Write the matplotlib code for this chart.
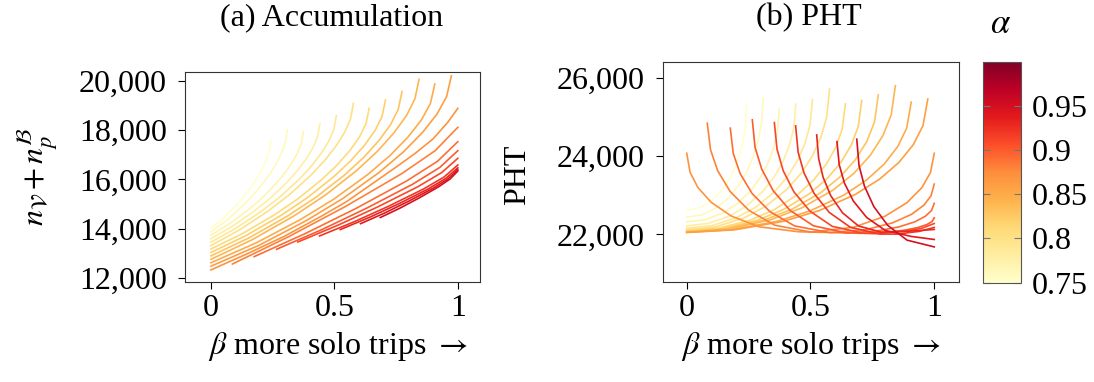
import matplotlib
matplotlib.use('Agg')
import matplotlib.pyplot as plt
from matplotlib import colors, cm
from matplotlib.ticker import FuncFormatter

plt.rcParams['font.family'] = ['Liberation Serif', 'DejaVu Serif']
plt.rcParams['mathtext.fontset'] = 'stix'

# alpha of every curve (colour)
alpha_short = [0.75, 0.76, 0.77, 0.78, 0.79, 0.80, 0.81, 0.82, 0.83, 0.84, 0.85, 0.86]
alpha_long = [0.87, 0.88, 0.89, 0.90, 0.91, 0.92, 0.93, 0.94, 0.95]

# curves that start at beta = 0 and stop before 1 (same beta in both panels)
short_beta = [
    [0, .0484, .0968, .1331, .1694, .1936, .2130, .2275, .2372, .242],
    [0, .0618, .1236, .1700, .2163, .2472, .2719, .2905, .3028, .309],
    [0, .0748, .1496, .2057, .2618, .2992, .3291, .3516, .3665, .374],
    [0, .0882, .1764, .2426, .3087, .3528, .3881, .4145, .4322, .441],
    [0, .1016, .2032, .2794, .3556, .4064, .4470, .4775, .4978, .508],
    [0, .1154, .2308, .3174, .4039, .4616, .5078, .5424, .5655, .577],
    [0, .1282, .2564, .3526, .4487, .5128, .5641, .6025, .6282, .641],
    [0, .1414, .2828, .3889, .4949, .5656, .6222, .6646, .6929, .707],
    [0, .1548, .3096, .4257, .5418, .6192, .6811, .7276, .7585, .774],
    [0, .1686, .3372, .4637, .5901, .6744, .7418, .7924, .8261, .843],
    [0, .1814, .3628, .4989, .6349, .7256, .7982, .8526, .8889, .907],
    [0, .1948, .3896, .5357, .6818, .7792, .8571, .9156, .9545, .974],
]
acc_short = [
    [14010, 14405, 14879, 15292, 15780, 16164, 16534, 16878, 17209, 17600],
    [13870, 14325, 14872, 15348, 15911, 16354, 16780, 17178, 17559, 18010],
    [13730, 14193, 14749, 15233, 15806, 16256, 16690, 17094, 17481, 17940],
    [13590, 14103, 14718, 15254, 15887, 16386, 16866, 17313, 17742, 18250],
    [13450, 14015, 14694, 15285, 15984, 16534, 17063, 17557, 18030, 18590],
    [13310, 13946, 14709, 15373, 16160, 16778, 17373, 17928, 18460, 19090],
    [13170, 13799, 14554, 15212, 15990, 16602, 17191, 17740, 18267, 18890],
    [13030, 13712, 14530, 15243, 16087, 16750, 17389, 17984, 18554, 19230],
    [12890, 13625, 14507, 15275, 16183, 16898, 17586, 18227, 18842, 19570],
    [12750, 13555, 14521, 15363, 16359, 17142, 17896, 18599, 19272, 20070],
    [12610, 13410, 14369, 15205, 16194, 16972, 17721, 18419, 19088, 19880],
    [12470, 13321, 14343, 15233, 16286, 17114, 17911, 18654, 19366, 20210],
]
pht_short = [
    [22620, 22674, 22843, 23060, 23383, 23688, 24022, 24379, 24759, 25290],
    [22440, 22502, 22695, 22943, 23312, 23660, 24041, 24449, 24883, 25490],
    [22320, 22378, 22561, 22795, 23145, 23474, 23835, 24221, 24631, 25205],
    [22220, 22283, 22480, 22733, 23110, 23465, 23854, 24271, 24714, 25333],
    [22160, 22226, 22434, 22701, 23099, 23474, 23884, 24324, 24790, 25444],
    [22120, 22193, 22420, 22713, 23149, 23559, 24009, 24490, 25002, 25718],
    [22095, 22161, 22366, 22630, 23023, 23393, 23799, 24233, 24695, 25341],
    [22080, 22148, 22359, 22631, 23037, 23418, 23837, 24284, 24760, 25426],
    [22070, 22141, 22362, 22647, 23071, 23471, 23909, 24377, 24875, 25572],
    [22060, 22136, 22373, 22677, 23130, 23557, 24025, 24526, 25058, 25803],
    [22055, 22122, 22333, 22604, 23007, 23387, 23803, 24249, 24722, 25385],
    [22050, 22119, 22335, 22612, 23026, 23415, 23841, 24298, 24783, 25462],
]

# curves that run up to beta = 1
acc_long_beta = [
    [0, .15, .3, .45, .55, .65, .75, .83, .9, .96, 1],
    [0.087, 0.315, 0.544, 0.772, 0.909, 1],
    [0.175, 0.381, 0.588, 0.794, 0.918, 1],
    [0.266, 0.450, 0.633, 0.817, 0.927, 1],
    [0.352, 0.514, 0.676, 0.838, 0.935, 1],
    [0.440, 0.580, 0.720, 0.860, 0.944, 1],
    [0.524, 0.643, 0.762, 0.881, 0.952, 1],
    [0.606, 0.705, 0.803, 0.902, 0.961, 1],
    [0.686, 0.765, 0.843, 0.922, 0.969, 1],
]
acc_long = [
    [12320, 12990, 13700, 14520, 15100, 15800, 16500, 17080, 17650, 18330, 18890],
    [12560, 13672, 14894, 16228, 17173, 18118],
    [12858, 13793, 14822, 15944, 16738, 17533],
    [13159, 13961, 14842, 15804, 16486, 17167],
    [13455, 14136, 14884, 15701, 16279, 16858],
    [13700, 14277, 14912, 15604, 16095, 16585],
    [13960, 14462, 15014, 15617, 16043, 16470],
    [14200, 14640, 15124, 15652, 16026, 16400],
    [14450, 14828, 15244, 15698, 16020, 16341],
]
pht_long_beta = [
    [0, 0.0135, 0.045, 0.099, 0.18, 0.2925, 0.45, 0.5, 0.675, 0.8, 0.89, 0.95, 0.985, 1],
    [0.083, 0.096, 0.125, 0.175, 0.251, 0.356, 0.503, 0.58, 0.727, 0.832, 0.908, 0.958, 0.987, 1],
    [0.176, 0.188, 0.216, 0.264, 0.336, 0.436, 0.576, 0.64, 0.766, 0.856, 0.921, 0.964, 0.989, 1],
    [0.265, 0.276, 0.303, 0.349, 0.417, 0.512, 0.645, 0.7, 0.805, 0.88, 0.934, 0.97, 0.991, 1],
    [0.354, 0.365, 0.39, 0.433, 0.498, 0.588, 0.714, 0.76, 0.88, 0.95, 1],
    [0.44, 0.45, 0.474, 0.515, 0.576, 0.661, 0.78, 0.85, 0.94, 1],
    [0.525, 0.533, 0.551, 0.582, 0.629, 0.694, 0.785, 0.9, 1],
    [0.607, 0.616, 0.637, 0.673, 0.727, 0.802, 0.907, 1],
    [0.687, 0.696, 0.718, 0.756, 0.812, 0.890, 1],
]
pht_long = [
    [24077, 23589, 23202, 22821, 22471, 22196, 22070, 22060, 22187, 22463, 22814, 23198, 23587, 24077],
    [24846, 24169, 23631, 23102, 22617, 22236, 22060, 22050, 22128, 22298, 22514, 22749, 22989, 23290],
    [24718, 24070, 23555, 23048, 22584, 22218, 22050, 22040, 22088, 22191, 22322, 22466, 22612, 22795],
    [24931, 24228, 23671, 23121, 22618, 22222, 22040, 22030, 22055, 22109, 22178, 22253, 22330, 22426],
    [24862, 24174, 23627, 23089, 22596, 22208, 22030, 22020, 22080, 22160, 22280],
    [24777, 24105, 23571, 23045, 22563, 22184, 22010, 22010, 22080, 22180],
    [24546, 23942, 23462, 22990, 22557, 22217, 22060, 22085, 22128],
    [24374, 23785, 23317, 22857, 22435, 22103, 21950, 21872],
    [24436, 23767, 23235, 22712, 22233, 21855, 21682],
]

x_ticks = [0, 0.5, 1]
x_ticklabels = ['0', '0.5', '1']
acc_ticks = [12000, 14000, 16000, 18000, 20000]
pht_ticks = [22000, 24000, 26000]
cbar_ticks = [0.75, 0.8, 0.85, 0.9, 0.95]
cbar_ticklabels = ['0.75', '0.8', '0.85', '0.9', '0.95']

FS = 23
cmap = plt.get_cmap('YlOrRd')
norm = colors.Normalize(vmin=0.75, vmax=1.0)

fig = plt.figure(figsize=(10.94, 3.82), dpi=100)
ax1 = fig.add_axes([0.1691, 0.2618, 0.2697, 0.5497])
ax2 = fig.add_axes([0.6060, 0.2618, 0.2706, 0.5759])
cax = fig.add_axes([0.8983, 0.2600, 0.0347, 0.5785])

# lighter curves first, redder curves on top
for b, v, a in zip(short_beta, acc_short, alpha_short):
    ax1.plot(b, v, color=cmap(norm(a)), lw=1.2)
for b, v, a in zip(acc_long_beta, acc_long, alpha_long):
    ax1.plot(b, v, color=cmap(norm(a)), lw=1.2)

for b, v, a in zip(short_beta, pht_short, alpha_short):
    ax2.plot(b, v, color=cmap(norm(a)), lw=1.2)
for b, v, a in zip(pht_long_beta, pht_long, alpha_long):
    ax2.plot(b, v, color=cmap(norm(a)), lw=1.2)

fmt = FuncFormatter(lambda x, p: '{:,.0f}'.format(x))
for ax, ticks in [(ax1, acc_ticks), (ax2, pht_ticks)]:
    ax.set_xticks(x_ticks)
    ax.set_xticklabels(x_ticklabels)
    ax.set_yticks(ticks)
    ax.yaxis.set_major_formatter(fmt)
    ax.tick_params(direction='out', length=5, width=0.8, labelsize=FS,
                   top=False, right=False)
    ax.tick_params(axis='y', pad=8)
    ax.tick_params(axis='x', pad=4)
    for s in ax.spines.values():
        s.set_linewidth(0.8)
        s.set_color('#333333')

ax1.set_xlim(-0.105, 1.09)
ax1.set_ylim(11829, 20366)
ax2.set_xlim(-0.096, 1.10)
ax2.set_ylim(20785, 26410)

cb = fig.colorbar(cm.ScalarMappable(norm=norm, cmap=cmap), cax=cax, ticks=cbar_ticks)
cb.set_ticklabels(cbar_ticklabels)
cb.outline.set_linewidth(0.8)
cb.outline.set_edgecolor('#555555')
cax.tick_params(direction='in', length=5, width=0.8, color='#777777',
                left=True, right=True, labelsize=FS, pad=8)

fig.text(0.3035, 0.953, '(a) Accumulation', ha='center', va='center', fontsize=FS)
fig.text(0.7390, 0.953, '(b) PHT', ha='center', va='center', fontsize=FS)
fig.text(0.3085, 0.092, r'$\beta$ more solo trips $\rightarrow$', ha='center', va='center', fontsize=FS)
fig.text(0.7413, 0.092, r'$\beta$ more solo trips $\rightarrow$', ha='center', va='center', fontsize=FS)
fig.text(0.035, 0.5366, r'$n_{\mathcal{V}}+n_p^{\mathcal{B}}$', rotation=90,
         ha='center', va='center', fontsize=FS)
fig.text(0.4735, 0.542, 'PHT', rotation=90, ha='center', va='center', fontsize=FS)
fig.text(0.9145, 0.935, r'$\alpha$', ha='center', va='center', fontsize=FS + 2)

fig.savefig('out.png', dpi=100)
